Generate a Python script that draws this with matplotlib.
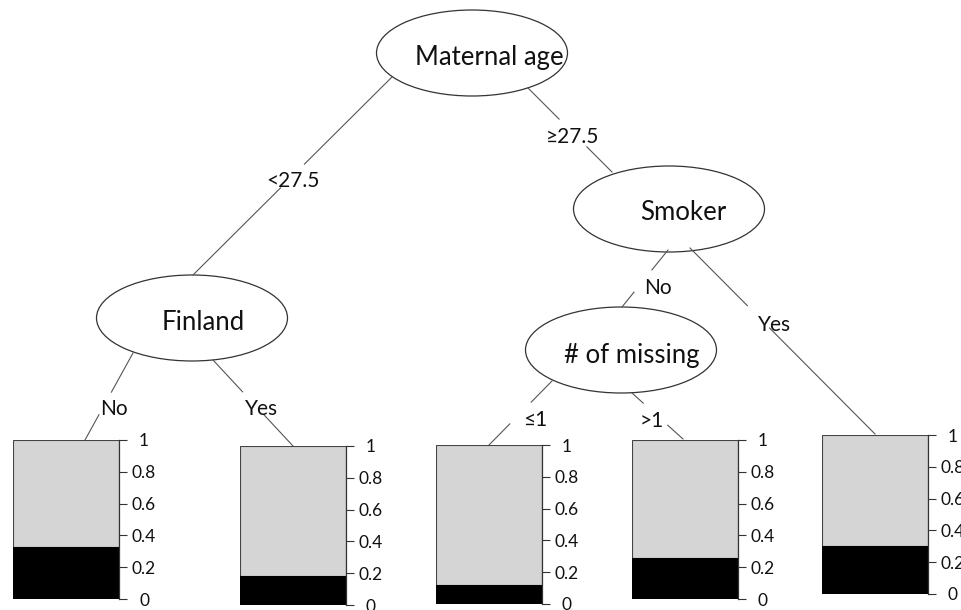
import matplotlib
matplotlib.use("Agg")
import matplotlib.pyplot as plt
from matplotlib.patches import Ellipse

plt.rcParams['font.family'] = ['Lato', 'DejaVu Sans']

# tree content
node_names = ["Maternal age", "Smoker", "# of missing", "Finland"]
edge_labels = ["<27.5", "\u226527.5", "No", "Yes", "No", "Yes", "\u22641", ">1"]
leaf_values = [0.33, 0.18, 0.12, 0.26, 0.30]   # share in black
tick_vals = [0, 0.2, 0.4, 0.6, 0.8, 1]
tick_text = ["0", "0.2", "0.4", "0.6", "0.8", "1"]

# layout (pixels, origin top-left)
node_centers = [(472, 53), (669, 209), (621, 350), (192, 318)]
node_text_pos = [(489, 58), (683, 213), (632, 355), (203, 323)]
node_size = (191, 86)
# edges: start, end, gap along line (t0, t1), label position
edge_start = [(392, 77), (528, 88), (668, 250), (690, 248), (133, 353), (213, 360), (552, 381), (632, 393)]
edge_end = [(193, 275), (612, 172), (622, 307), (875, 434), (85, 440), (293, 446), (489, 445), (683, 439)]
edge_gap = [(0.44, 0.56), (0.37, 0.70), (0.35, 0.74), (0.31, 0.43),
            (0.45, 0.71), (0.37, 0.64), (0.33, 0.67), (0.22, 0.70)]
edge_label_pos = [(293, 181), (573, 137), (658, 288), (775, 325),
                  (114, 409), (262, 409), (535, 420), (652, 421)]
leaf_boxes = [(13, 440), (240, 446), (436, 445), (632, 440), (822, 435)]  # left, top
leaf_w, leaf_h = 106, 159

W, H = 962, 610
fig = plt.figure(figsize=(W / 100, H / 100), dpi=100)
ax = fig.add_axes([0, 0, 1, 1])
ax.set_xlim(0, W)
ax.set_ylim(H, 0)
ax.axis('off')

for (cx, cy), (tx, ty), name in zip(node_centers, node_text_pos, node_names):
    ax.add_patch(Ellipse((cx, cy), node_size[0], node_size[1], fill=False,
                         edgecolor='#333333', lw=0.9))
    ax.text(tx, ty, name, ha='center', va='center', fontsize=18.5, color='#111111')

for (x0, y0), (x1, y1), (t0, t1), (lx, ly), lab in zip(edge_start, edge_end, edge_gap,
                                                      edge_label_pos, edge_labels):
    ax.plot([x0, x0 + (x1 - x0) * t0], [y0, y0 + (y1 - y0) * t0], color='#555555', lw=0.8)
    ax.plot([x0 + (x1 - x0) * t1, x1], [y0 + (y1 - y0) * t1, y1], color='#555555', lw=0.8)
    ax.text(lx, ly, lab, ha='center', va='center', fontsize=15, color='#111111')

for (lx, ty), v in zip(leaf_boxes, leaf_values):
    lax = fig.add_axes([lx / W, 1 - (ty + leaf_h) / H, leaf_w / W, leaf_h / H])
    lax.bar([0], [1], width=1, color='#d5d5d5', edgecolor='#444444', lw=0.8)
    lax.bar([0], [v], width=1, color='black', edgecolor='black', lw=0.8)
    lax.set_xlim(-0.5, 0.5)
    lax.set_ylim(0, 1)
    for s in ['left', 'top', 'bottom']:
        lax.spines[s].set_visible(False)
    lax.spines['right'].set_color('#333333')
    lax.spines['right'].set_linewidth(0.9)
    lax.set_xticks([])
    lax.yaxis.tick_right()
    lax.set_yticks(tick_vals)
    lax.set_yticklabels(tick_text)
    lax.tick_params(axis='y', length=6, width=0.8, color='#333333', pad=12,
                    labelsize=12.5, labelcolor='#111111')
    for t in lax.get_yticklabels():
        t.set_horizontalalignment('center')
    lax.patch.set_alpha(0)

fig.savefig("out.png", dpi=100)
